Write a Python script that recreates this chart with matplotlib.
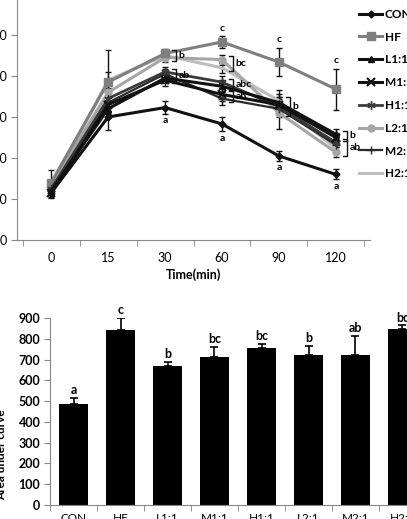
import numpy as np
import matplotlib
matplotlib.use("Agg")
import matplotlib.pyplot as plt

plt.rcParams['font.family'] = ['Lato', 'DejaVu Sans']

# ---------------- data ----------------
times = ["0", "15", "30", "60", "90", "120"]
groups = ["CON", "HF", "L1:1", "M1:1", "H1:1", "L2:1", "M2:1", "H2:1"]

con = [115, 300, 323, 283, 205, 160]
hf = [140, 385, 455, 483, 434, 368]
l11 = [120, 320, 395, 375, 335, 258]
m11 = [115, 330, 390, 355, 330, 250]
h11 = [125, 345, 410, 385, 325, 238]
l21 = [135, 360, 445, 440, 310, 214]
m21 = [120, 335, 405, 345, 320, 232]
h21 = [130, 390, 450, 420, 340, 222]

con_err = [12, 32, 15, 18, 12, 12]
hf_err = [30, 78, 12, 15, 35, 50]
l11_err = [10, 20, 12, 15, 20, 12]
m11_err = [10, 20, 15, 15, 18, 12]
h11_err = [10, 20, 12, 15, 18, 10]
l21_err = [12, 20, 12, 12, 40, 12]
m21_err = [10, 20, 12, 15, 20, 12]
h21_err = [12, 20, 12, 12, 25, 10]

# significance letters (top chart): (time index, letter, members)
bracket_groups = [
    (2, "b", ["HF", "L2:1", "H2:1"]),
    (2, "ab", ["L1:1", "M1:1", "H1:1", "M2:1"]),
    (3, "bc", ["L2:1", "H2:1"]),
    (3, "abc", ["L1:1", "H1:1"]),
    (3, "ab", ["M1:1", "M2:1"]),
    (4, "b", ["L1:1", "M1:1", "H1:1", "L2:1", "M2:1", "H2:1"]),
    (5, "b", ["L1:1", "M1:1"]),
    (5, "ab", ["H1:1", "L2:1", "M2:1", "H2:1"]),
]
above_letters = [(3, "c", "HF"), (4, "c", "HF"), (5, "c", "HF")]
below_letters = [(2, "a", "CON"), (3, "a", "CON"), (4, "a", "CON"), (5, "a", "CON")]

auc = [485, 840, 670, 710, 755, 720, 720, 845]
auc_err = [30, 60, 20, 50, 20, 45, 95, 20]
auc_letters = ["a", "c", "b", "bc", "bc", "b", "ab", "bc"]

series = {
    "CON": (con, con_err, dict(color="#111111", marker="D", ms=3.5, lw=2.2)),
    "HF": (hf, hf_err, dict(color="#7f7f7f", marker="s", ms=6, lw=2.2)),
    "L1:1": (l11, l11_err, dict(color="#111111", marker="^", ms=5, lw=2.2)),
    "M1:1": (m11, m11_err, dict(color="#111111", marker="x", ms=6, mew=1.5, lw=2.2)),
    "H1:1": (h11, h11_err, dict(color="#3a3a3a", marker=(6, 2, 0), ms=6, mew=1, lw=2.0)),
    "L2:1": (l21, l21_err, dict(color="#a6a6a6", marker="o", ms=5, lw=2.2)),
    "M2:1": (m21, m21_err, dict(color="#2a2a2a", marker="+", ms=6, mew=1, lw=1.6)),
    "H2:1": (h21, h21_err, dict(color="#bdbdbd", marker=None, lw=2.2)),
}

W, H = 407, 519
fig = plt.figure(figsize=(W / 100, H / 100), dpi=100)

# ---------------- top line chart ----------------
axl, axb, axr, axt = 17, 240, 370, -6
ax = fig.add_axes([axl / W, 1 - axb / H, (axr - axl) / W, (axb - axt) / H])
x = np.arange(len(times))
draw_order = ["H2:1", "L2:1", "HF", "M2:1", "H1:1", "M1:1", "L1:1", "CON"]
handles = {}
for name in draw_order:
    vals, err, st = series[name]
    st = dict(st)
    color = st.pop("color")
    lw = st.pop("lw")
    line, = ax.plot(x, vals, color=color, lw=lw, **st, zorder=3)
    ax.errorbar(x, vals, yerr=err, fmt="none", ecolor="#111111", elinewidth=1.0,
                capsize=2.5, capthick=1.0, zorder=2)
    handles[name] = line

vals_of = {k: v[0] for k, v in series.items()}
err_of = {k: v[1] for k, v in series.items()}
for ti, letter, members in bracket_groups:
    ys = [vals_of[m][ti] for m in members]
    lo, hi = min(ys) - 8, max(ys) + 8
    bx = ti + 0.2
    ax.plot([bx - 0.07, bx, bx, bx - 0.07], [hi, hi, lo, lo], color="#111111", lw=1.0, zorder=4)
    ax.text(bx + 0.04, (lo + hi) / 2, letter, fontsize=7.5, fontweight="bold", va="center", ha="left")
for ti, letter, m in above_letters:
    ax.text(ti, vals_of[m][ti] + err_of[m][ti] + 8, letter, fontsize=7.5, fontweight="bold",
            ha="center", va="bottom")
for ti, letter, m in below_letters:
    ax.text(ti, vals_of[m][ti] - err_of[m][ti] - 6, letter, fontsize=7.5, fontweight="bold",
            ha="center", va="top")

ax.set_xlim(-0.6, 5.6)
ax.set_ylim(0, 600)
ax.set_yticks(np.arange(0, 601, 100))
ax.set_xticks(x)
ax.set_xticklabels(times)
ax.set_xticks(np.arange(-0.5, 6, 1), minor=True)
ax.tick_params(axis="x", which="major", length=0, pad=9, labelsize=9)
ax.tick_params(axis="x", which="minor", length=4, color="#888888")
ax.tick_params(axis="y", length=4, color="#888888", labelsize=9, pad=3)
for s in ["top", "right"]:
    ax.spines[s].set_visible(False)
for s in ["left", "bottom"]:
    ax.spines[s].set_color("#888888")
ax.set_xlabel("Time(min)", fontsize=9, fontweight="bold", labelpad=3)

leg_names = ["CON", "HF", "L1:1", "M1:1", "H1:1", "L2:1", "M2:1", "H2:1"]
fig.legend([handles[n] for n in leg_names], leg_names, loc="upper left",
           bbox_to_anchor=(354 / W, 1 - 4 / H), frameon=False,
           handlelength=2.0, handletextpad=0.2, labelspacing=1.0, borderaxespad=0,
           prop={"weight": "bold", "size": 8.5})

# ---------------- bottom bar chart ----------------
bl, bb, bt = 50, 505, 318
spacing = 47
bw = spacing * 8
ax2 = fig.add_axes([bl / W, 1 - bb / H, bw / W, (bb - bt) / H])
xb = np.arange(len(groups))
ax2.bar(xb, auc, width=0.6, color="black", zorder=2)
ax2.errorbar(xb, auc, yerr=[np.zeros(len(auc)), auc_err], fmt="none", ecolor="black",
             elinewidth=1.2, capsize=3, capthick=1.2, zorder=3)
for xi, v, e, lt in zip(xb, auc, auc_err, auc_letters):
    ax2.text(xi, v + e + 8, lt, ha="center", va="bottom", fontsize=9, fontweight="bold")
ax2.set_xlim(-0.5, 7.5)
ax2.set_ylim(0, 900)
ax2.set_yticks(np.arange(0, 901, 100))
ax2.set_xticks(xb)
ax2.set_xticklabels(groups)
ax2.set_xticks(np.arange(-0.5, 8, 1), minor=True)
ax2.tick_params(axis="x", which="major", length=0, pad=6, labelsize=8.5)
ax2.tick_params(axis="x", which="minor", length=4, color="#888888")
ax2.tick_params(axis="y", length=4, color="#888888", labelsize=9, pad=3)
for lbl in ax2.get_yticklabels():
    lbl.set_fontweight("bold")
for s in ["top", "right"]:
    ax2.spines[s].set_visible(False)
for s in ["left", "bottom"]:
    ax2.spines[s].set_color("#888888")
fig.text(-4 / W, 1 - 500 / H, "Area under curve", rotation=90, ha="left", va="bottom",
         fontsize=8.5, fontweight="bold")

fig.savefig("out.png", dpi=100)
